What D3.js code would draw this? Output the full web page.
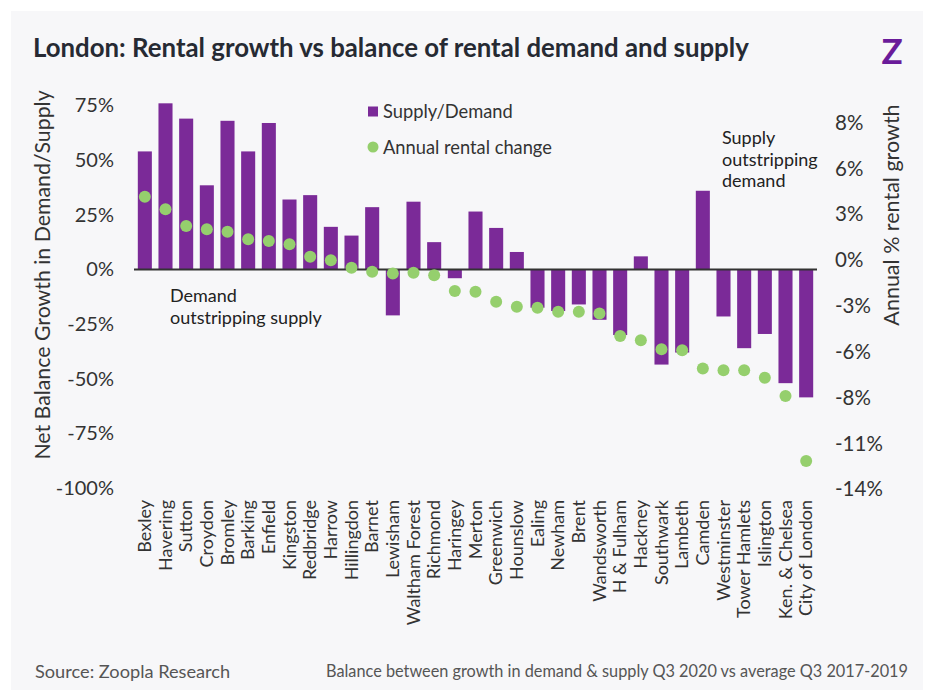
<!DOCTYPE html>
<html>
<head>
<meta charset="utf-8">
<script src="https://cdn.jsdelivr.net/npm/d3@7.9.0/dist/d3.min.js"></script>
<style>
  html, body { margin: 0; padding: 0; background: #fff; }
  svg { display: block; font-family: Lato, "Open Sans", sans-serif; }
</style>
</head>
<body>
<svg id="chart" width="931" height="690"></svg>
<script>
// Boroughs in chart order
const boroughs = ['Bexley', 'Havering', 'Sutton', 'Croydon', 'Bromley', 'Barking', 'Enfield',
  'Kingston', 'Redbridge', 'Harrow', 'Hillingdon', 'Barnet', 'Lewisham', 'Waltham Forest',
  'Richmond', 'Haringey', 'Merton', 'Greenwich', 'Hounslow', 'Ealing', 'Newham', 'Brent',
  'Wandsworth', 'H & Fulham', 'Hackney', 'Southwark', 'Lambeth', 'Camden', 'Westminster',
  'Tower Hamlets', 'Islington', 'Ken. & Chelsea', 'City of London'];

// Net balance growth in demand/supply (%)
const supplyDemand = [54, 76, 69, 38.5, 68, 54, 67, 32, 34, 19.5, 15.5, 28.5, -21, 31, 12.5,
  -4, 26.5, 19, 8, -17.5, -19, -16, -23, -30, 6, -43.5, -38, 36, -21.5, -36, -29.5, -52, -58.5];

// Annual rental change (%)
const rentalChange = [3.8, 3.05, 2.05, 1.85, 1.7, 1.25, 1.15, 0.95, 0.2, 0.0, -0.45, -0.7,
  -0.8, -0.75, -0.9, -1.85, -1.9, -2.5, -2.8, -2.85, -3.1, -3.1, -3.2, -4.55, -4.8, -5.35,
  -5.4, -6.5, -6.6, -6.6, -7.05, -8.15, -12.05];

const leftTicks = [75, 50, 25, 0, -25, -50, -75, -100];
const rightTicks = [8.25, 5.5, 2.75, 0, -2.75, -5.5, -8.25, -11, -13.75];
const rightTickLabels = ['8%', '6%', '3%', '0%', '-3%', '-6%', '-8%', '-11%', '-14%'];

const purple = '#7b2a98';
const green = '#95cf6d';
const textColor = '#333';

const svg = d3.select('#chart');

// Panel background
svg.append('rect')
  .attr('x', 11).attr('y', 11)
  .attr('width', 912).attr('height', 679)
  .attr('fill', '#f7f7f9');

// Title
svg.append('text')
  .attr('x', 33).attr('y', 57)
  .attr('font-size', 25.8)
  .attr('font-weight', 700)
  .attr('fill', '#262a33')
  .text('London: Rental growth vs balance of rental demand and supply');

// Logo
svg.append('text')
  .attr('x', 892).attr('y', 64)
  .attr('text-anchor', 'middle')
  .attr('font-size', 35)
  .attr('font-weight', 700)
  .attr('fill', '#6a1b9a')
  .text('Z');

// Scales
const x = d3.scaleBand()
  .domain(boroughs)
  .range([134.5, 816.5])
  .paddingInner(0.32)
  .paddingOuter(0.16);

const yLeft = d3.scaleLinear()
  .domain([-100, 75])
  .range([488.1, 105.5]);

const yRight = d3.scaleLinear()
  .domain([-13.75, 8.25])
  .range([489.3, 122.7]);

// Bars
svg.append('g')
  .selectAll('rect')
  .data(boroughs)
  .join('rect')
  .attr('x', d => x(d))
  .attr('width', x.bandwidth())
  .attr('y', (d, i) => yLeft(Math.max(0, supplyDemand[i])))
  .attr('height', (d, i) => Math.abs(yLeft(supplyDemand[i]) - yLeft(0)))
  .attr('fill', purple);

// Zero line
svg.append('line')
  .attr('x1', 134).attr('x2', 817)
  .attr('y1', yLeft(0)).attr('y2', yLeft(0))
  .attr('stroke', '#333')
  .attr('stroke-width', 2);

// Dots
svg.append('g')
  .selectAll('circle')
  .data(boroughs)
  .join('circle')
  .attr('cx', d => x(d) + x.bandwidth() / 2)
  .attr('cy', (d, i) => yRight(rentalChange[i]))
  .attr('r', 6)
  .attr('fill', green);

// Left axis
const leftAxis = svg.append('g')
  .attr('transform', 'translate(114,0)')
  .call(d3.axisLeft(yLeft).tickValues(leftTicks).tickSize(0).tickPadding(0)
    .tickFormat(d => d + '%'));
leftAxis.select('.domain').remove();
leftAxis.selectAll('text')
  .attr('font-family', 'Lato, sans-serif')
  .attr('font-size', 20)
  .attr('fill', textColor);

// Right axis
const rightAxis = svg.append('g')
  .attr('transform', 'translate(835,0)')
  .call(d3.axisRight(yRight).tickValues(rightTicks).tickSize(0).tickPadding(0)
    .tickFormat((d, i) => rightTickLabels[i]));
rightAxis.select('.domain').remove();
rightAxis.selectAll('text')
  .attr('font-family', 'Lato, sans-serif')
  .attr('font-size', 20.5)
  .attr('fill', textColor);

// Category axis
const xAxis = svg.append('g')
  .attr('transform', 'translate(0,500)')
  .call(d3.axisBottom(x).tickSize(0).tickPadding(0));
xAxis.select('.domain').remove();
xAxis.selectAll('text')
  .attr('font-family', 'Lato, sans-serif')
  .attr('font-size', 18)
  .attr('fill', textColor)
  .attr('text-anchor', 'end')
  .attr('dy', '0.35em')
  .attr('transform', 'rotate(-90)')
  .attr('x', 0)
  .attr('y', 0);

// Axis titles
svg.append('text')
  .attr('transform', 'translate(50,275) rotate(-90)')
  .attr('text-anchor', 'middle')
  .attr('font-size', 21.3)
  .attr('fill', textColor)
  .text('Net Balance Growth in Demand/Supply');

svg.append('text')
  .attr('transform', 'translate(899,215) rotate(-90)')
  .attr('text-anchor', 'middle')
  .attr('font-size', 21.5)
  .attr('fill', textColor)
  .text('Annual % rental growth');

// Legend
svg.append('rect')
  .attr('x', 368).attr('y', 106.5)
  .attr('width', 10).attr('height', 10)
  .attr('fill', purple);
svg.append('text')
  .attr('x', 383).attr('y', 117.5)
  .attr('font-size', 18.3)
  .attr('fill', textColor)
  .text('Supply/Demand');
svg.append('circle')
  .attr('cx', 373).attr('cy', 147)
  .attr('r', 5.5)
  .attr('fill', green);
svg.append('text')
  .attr('x', 383).attr('y', 153.5)
  .attr('font-size', 18.3)
  .attr('fill', textColor)
  .text('Annual rental change');

// Annotations
const annot = (lines, ax, ay) => {
  const t = svg.append('text')
    .attr('font-size', 18)
    .attr('fill', '#222');
  lines.forEach((l, i) => {
    t.append('tspan').attr('x', ax).attr('y', ay + i * 21.5).text(l);
  });
};
annot(['Demand', 'outstripping supply'], 170, 302);
annot(['Supply', 'outstripping', 'demand'], 722, 144);

// Footer
svg.append('text')
  .attr('x', 35).attr('y', 678)
  .attr('font-size', 18.2)
  .attr('fill', '#555')
  .text('Source: Zoopla Research');
svg.append('text')
  .attr('x', 908).attr('y', 677)
  .attr('text-anchor', 'end')
  .attr('font-size', 16.3)
  .attr('fill', '#555')
  .text('Balance between growth in demand & supply Q3 2020 vs average Q3 2017-2019');
</script>
</body>
</html>
